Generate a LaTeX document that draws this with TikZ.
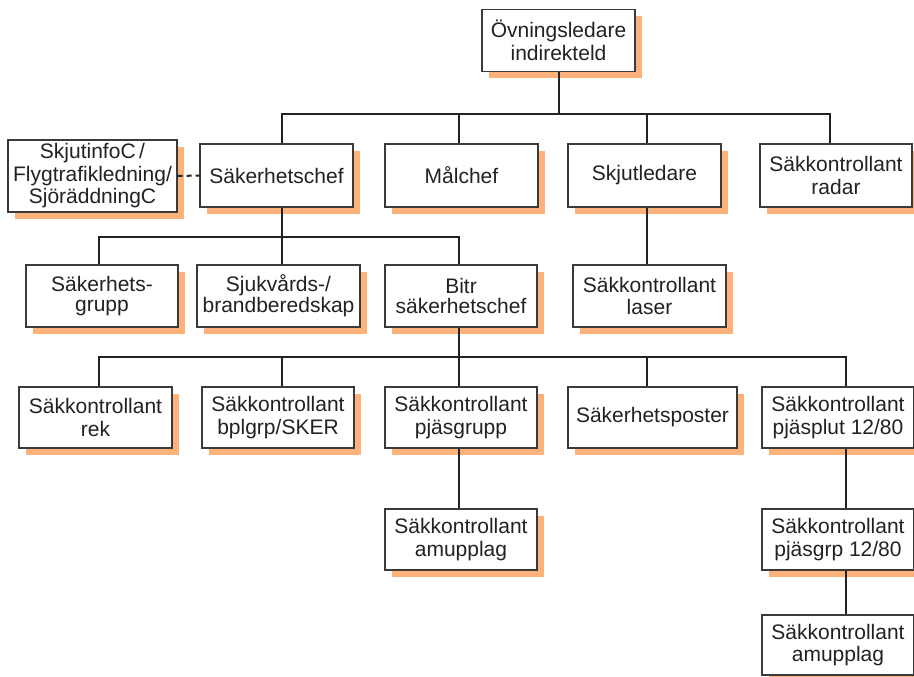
\documentclass[tikz,border=0pt]{standalone}
\usepackage{fontspec}
\setmainfont{Liberation Sans}
\usepackage{tikz}
\usetikzlibrary{shadows}
\definecolor{Ink}{HTML}{222222}
\definecolor{Frame}{HTML}{3A3A3A}
\definecolor{Peach}{HTML}{FCB27A}

\begin{document}
\begin{tikzpicture}[x=1pt, y=-1pt,
    box/.style={draw=Frame, fill=white, line width=1.2pt, text=Ink,
      align=center, inner sep=0pt, minimum width=153pt, minimum height=62pt,
      font=\fontsize{21}{22.5}\selectfont,
      drop shadow={shadow xshift=7pt, shadow yshift=-7pt, fill=Peach, opacity=1}},
    tight/.style={font=\fontsize{21}{19.5}\selectfont},
    link/.style={draw=Ink, line width=2pt}]
  \useasboundingbox (0,0) rectangle (914,677);
  % Columns and bus lines
  \coordinate (colA) at (99,0);
  \coordinate (colB) at (282,0);
  \coordinate (colC) at (459,0);
  \coordinate (colD) at (647,0);
  \coordinate (colE) at (846,0);
  \coordinate (colR) at (830,0);
  \coordinate (bus1) at (0,114);
  \coordinate (bus2) at (0,237);
  \coordinate (bus3) at (0,357);
  % Top
  \node[box] (top) at (558.5,40.5) {Övningsledare\\indirekteld};
  % Second row
  \node[box, minimum width=169pt, minimum height=72pt] (info) at (92.5,176) {SkjutinfoC\,/\\Flygtrafikledning/\\SjöräddningC};
  \node[box, minimum height=63pt] (chef) at (276.5,175.5) {Säkerhetschef};
  \node[box, minimum height=63pt] (mal) at (461.5,175.5) {Målchef};
  \node[box, minimum height=63pt] (skjut) at (644.5,175.5) {Skjutledare};
  \node[box, minimum width=152pt, minimum height=63pt] (radar) at (836,175.5) {Säkkontrollant\\radar};
  % Third row
  \node[box, tight, minimum width=152pt] (grupp) at (102,296) {Säkerhets-\\grupp};
  \node[box, tight, minimum width=163pt] (sjuk) at (278.5,296) {Sjukvårds-/\\brandberedskap};
  \node[box, tight, minimum width=152pt] (bitr) at (461,296) {Bitr\\säkerhetschef};
  \node[box] (laser) at (649.5,296) {Säkkontrollant\\laser};
  % Fourth row
  \node[box, minimum height=61pt] (rek) at (95.5,417.5) {Säkkontrollant\\rek};
  \node[box, minimum width=152pt, minimum height=61pt] (bpl) at (278,417.5) {Säkkontrollant\\bplgrp/SKER};
  \node[box, minimum width=152pt, minimum height=61pt] (pjasg) at (461,417.5) {Säkkontrollant\\pjäsgrupp};
  \node[box, minimum width=169pt, minimum height=61pt] (poster) at (652.5,417.5) {Säkerhetsposter};
  \node[box, minimum width=152pt, minimum height=61pt] (plut) at (838,417.5) {Säkkontrollant\\pjäsplut 12/80};
  % Lower rows
  \node[box, minimum width=152pt, minimum height=61pt] (amup1) at (461,539.5) {Säkkontrollant\\amupplag};
  \node[box, minimum width=152pt, minimum height=61pt] (pjgrp) at (838,539.5) {Säkkontrollant\\pjäsgrp 12/80};
  \node[box, minimum width=152pt, minimum height=60pt] (amup2) at (838,645) {Säkkontrollant\\amupplag};
  % Lines, first level
  \draw[link] (top.south) -- (top.south |- bus1);
  \draw[link] (chef.north -| colB) -- (colB |- bus1) -- (colR |- bus1) -- (radar.north -| colR);
  \draw[link] (mal.north -| colC) -- (colC |- bus1);
  \draw[link] (skjut.north -| colD) -- (colD |- bus1);
  \draw[link, dash pattern=on 5pt off 4pt] (info.east) -- (chef.west);
  % Lines, second level
  \draw[link] (chef.south -| colB) -- (sjuk.north -| colB);
  \draw[link] (grupp.north -| colA) -- (colA |- bus2) -- (colC |- bus2) -- (bitr.north -| colC);
  \draw[link] (skjut.south -| colD) -- (laser.north -| colD);
  % Lines, third level
  \draw[link] (bitr.south -| colC) -- (pjasg.north -| colC);
  \draw[link] (rek.north -| colA) -- (colA |- bus3) -- (colE |- bus3) -- (plut.north -| colE);
  \foreach \n/\c in {bpl/colB, poster/colD}
    \draw[link] (\n.north -| \c) -- (\c |- bus3);
  % Lines, lower rows
  \draw[link] (pjasg.south -| colC) -- (amup1.north -| colC);
  \draw[link] (plut.south -| colE) -- (pjgrp.north -| colE);
  \draw[link] (pjgrp.south -| colE) -- (amup2.north -| colE);
\end{tikzpicture}
\end{document}
